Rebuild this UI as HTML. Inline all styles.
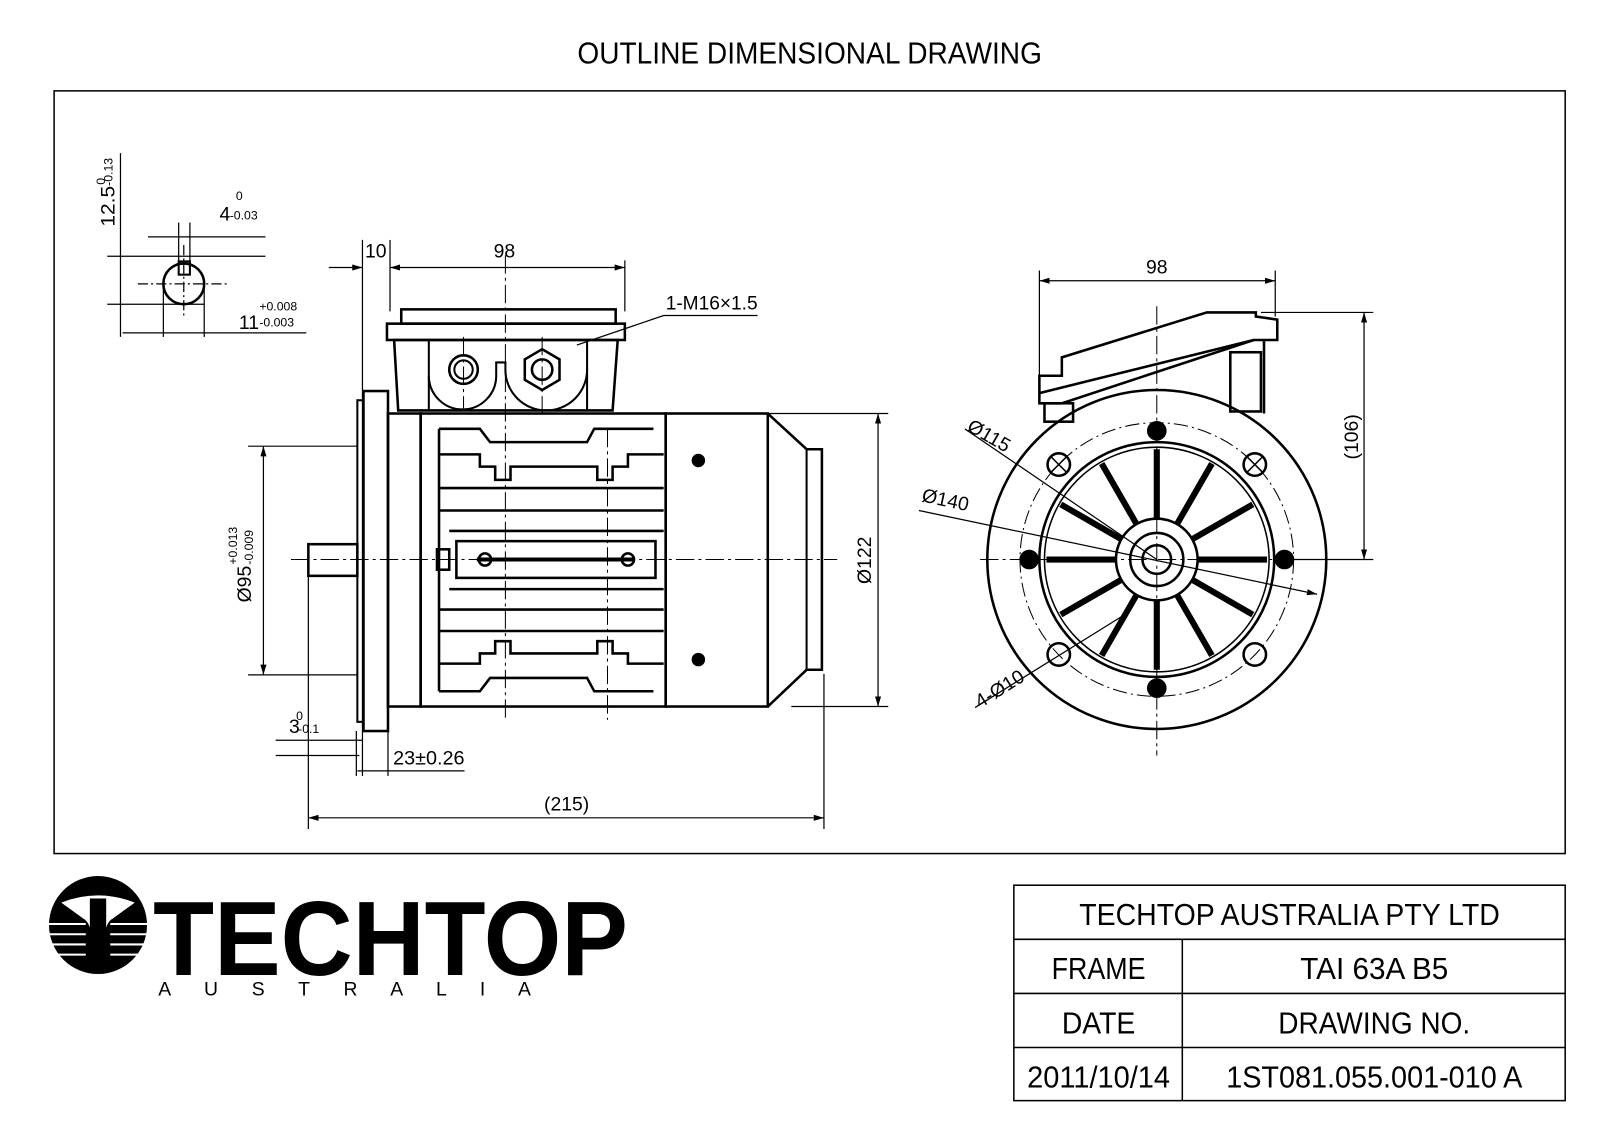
<!DOCTYPE html>
<html><head><meta charset="utf-8"><style>
body{margin:0;background:#fff;}
svg{display:block;}
text{font-family:"Liberation Sans","DejaVu Sans",sans-serif;fill:#000;}
</style></head><body>
<svg width="1600" height="1131" viewBox="0 0 1600 1131" xmlns="http://www.w3.org/2000/svg">
<defs>
<marker id="a" viewBox="0 0 10 6" refX="10" refY="3" markerWidth="10" markerHeight="6" orient="auto-start-reverse" markerUnits="userSpaceOnUse"><path d="M0,0 L10,3 L0,6 Z" fill="#000"/></marker>
</defs>
<rect width="1600" height="1131" fill="#fff"/>
<g transform="scale(1.021)">
<text x="793" y="62" font-size="30" text-anchor="middle" textLength="455" lengthAdjust="spacingAndGlyphs">OUTLINE DIMENSIONAL DRAWING</text>
<rect x="53" y="89" width="1480" height="747" fill="none" stroke="#000" stroke-width="1.5"/>

<g fill="none" stroke="#000" stroke-width="1.2">
<!-- key section -->
<circle cx="180" cy="278" r="20" stroke-width="2.5"/>
<rect x="175" y="256" width="11" height="13" stroke-width="2"/>
<line x1="105" y1="251" x2="260" y2="251"/>
<line x1="105" y1="298" x2="200" y2="298"/>
<line x1="118" y1="150" x2="118" y2="330"/>
<line x1="160" y1="278" x2="160" y2="330"/>
<line x1="200" y1="278" x2="200" y2="330"/>
<line x1="120" y1="326" x2="300" y2="326"/>
<line x1="145" y1="232" x2="260" y2="232"/>
<line x1="175" y1="218" x2="175" y2="256"/>
<line x1="186" y1="218" x2="186" y2="256"/>
<line x1="135" y1="278" x2="225" y2="278" stroke-dasharray="10 3 2 3"/>
<line x1="180" y1="240" x2="180" y2="310" stroke-dasharray="10 3 2 3"/>

<!-- side view -->
<line x1="355" y1="235" x2="355" y2="760"/>
<line x1="382" y1="235" x2="382" y2="305"/>
<line x1="612" y1="255" x2="612" y2="305"/>
<line x1="322" y1="262" x2="355" y2="262" marker-end="url(#a)"/>
<line x1="382" y1="262" x2="612" y2="262" marker-start="url(#a)" marker-end="url(#a)"/>
<line x1="243" y1="437" x2="350" y2="437"/>
<line x1="243" y1="661" x2="350" y2="661"/>
<line x1="258" y1="437" x2="258" y2="661" marker-start="url(#a)" marker-end="url(#a)"/>
<line x1="655" y1="405" x2="870" y2="405"/>
<line x1="775" y1="692" x2="870" y2="692"/>
<line x1="860" y1="405" x2="860" y2="692" marker-start="url(#a)" marker-end="url(#a)"/>
<line x1="302" y1="563" x2="302" y2="812"/>
<line x1="807" y1="660" x2="807" y2="812"/>
<line x1="302" y1="801" x2="807" y2="801" marker-start="url(#a)" marker-end="url(#a)"/>
<line x1="270" y1="725" x2="355" y2="725"/>
<line x1="270" y1="740" x2="352" y2="740"/>
<line x1="349" y1="716" x2="349" y2="760"/>
<line x1="380" y1="716" x2="380" y2="760"/>
<line x1="350" y1="755" x2="455" y2="755"/>
<!-- shaft -->
<rect x="302" y="533" width="48" height="31" stroke-width="2.5"/>
<!-- flange -->
<rect x="350" y="392" width="6" height="315" stroke-width="2"/>
<rect x="356" y="383" width="24" height="333" stroke-width="2.5"/>
<rect x="380" y="405" width="32" height="287" stroke-width="2.5"/>
<!-- body -->
<rect x="412" y="405" width="240" height="287" stroke-width="2.5"/>
<g stroke-width="2.5">
<line x1="430" y1="420" x2="430" y2="677"/>
<polyline points="430,420 470,420 480,433 575,433 582,420 640,420"/>
<polyline points="430,445 470,445 470,457 485,457 485,470 500,470 500,457 585,457 585,470 600,470 600,457 615,457 615,445 650,445"/>
<line x1="430" y1="478" x2="650" y2="478"/>
<line x1="430" y1="500" x2="650" y2="500"/>
<line x1="440" y1="520" x2="650" y2="520"/>
<line x1="440" y1="577" x2="650" y2="577"/>
<line x1="430" y1="597" x2="650" y2="597"/>
<line x1="430" y1="618" x2="650" y2="618"/>
<polyline points="430,650 470,650 470,640 485,640 485,628 500,628 500,640 585,640 585,628 600,628 600,640 615,640 615,650 650,650"/>
<polyline points="430,677 470,677 480,664 575,664 582,677 640,677"/>
<rect x="447" y="530" width="195" height="36"/>
<line x1="467" y1="548" x2="620" y2="548" stroke-width="4"/>
<circle cx="475" cy="548" r="6"/><circle cx="615" cy="548" r="6"/>
<rect x="428" y="538" width="12" height="20"/>
</g>
<!-- fan cover -->
<rect x="652" y="405" width="100" height="287" stroke-width="2.5"/>
<polyline points="752,405 790,440 805,440 805,656 790,656 752,692" stroke-width="2.5"/>
<line x1="790" y1="440" x2="790" y2="656" stroke-width="2"/>
<circle cx="684" cy="451" r="6" fill="#000"/>
<circle cx="684" cy="646" r="6" fill="#000"/>
<!-- terminal box -->
<rect x="393" y="303" width="210" height="14" stroke-width="2.5"/>
<rect x="379" y="317" width="233" height="16" stroke-width="2.5"/>
<polygon points="386,333 605,333 600,402 390,402" stroke-width="2.5"/>
<line x1="420" y1="333" x2="420" y2="402" stroke-width="2"/>
<line x1="575" y1="333" x2="575" y2="402" stroke-width="2"/>
<path d="M420,368 A33,33 0 0 0 486,368 L486,355 L495,355 L495,362 A40,40 0 0 0 575,362" stroke-width="2"/>
<circle cx="454" cy="362" r="14" stroke-width="2.5"/><circle cx="454" cy="362" r="9" stroke-width="2"/>
<polygon points="531,342 548,352 548,372 531,382 514,372 514,352" stroke-width="2.5" fill="#fff"/>
<circle cx="531" cy="362" r="10" stroke-width="2.5"/>
<polyline points="565,338 650,309 742,309"/>
<!-- centre lines -->
<g stroke-dasharray="18 4 3 4" stroke-width="1">
<line x1="285" y1="548" x2="820" y2="548"/>
<line x1="495" y1="250" x2="495" y2="705"/>
<line x1="595" y1="420" x2="595" y2="705"/>
<line x1="531" y1="330" x2="531" y2="410"/>
<line x1="454" y1="330" x2="454" y2="400"/>
</g>

<!-- front view -->
<g stroke-width="2.5">
<circle cx="1133" cy="548" r="166"/>
<circle cx="1133" cy="548" r="115"/>
<circle cx="1133" cy="548" r="110" stroke-width="1.5"/>
<circle cx="1133" cy="548" r="40"/>
<circle cx="1133" cy="548" r="26"/>
<circle cx="1133" cy="548" r="14"/>
</g>
<circle cx="1133" cy="548" r="134" stroke-dasharray="14 4 2 4" stroke-width="1"/>
<g stroke-width="6">
<line x1="1133" y1="508" x2="1133" y2="440"/><line x1="1133" y1="588" x2="1133" y2="656"/>
<line x1="1093" y1="548" x2="1025" y2="548"/><line x1="1173" y1="548" x2="1241" y2="548"/>
<line x1="1153" y1="513" x2="1187" y2="454"/><line x1="1113" y1="513" x2="1079" y2="454"/>
<line x1="1153" y1="583" x2="1187" y2="642"/><line x1="1113" y1="583" x2="1079" y2="642"/>
<line x1="1168" y1="528" x2="1227" y2="494"/><line x1="1098" y1="528" x2="1039" y2="494"/>
<line x1="1168" y1="568" x2="1227" y2="602"/><line x1="1098" y1="568" x2="1039" y2="602"/>
</g>
<g stroke-width="2.5">
<circle cx="1037" cy="455" r="11"/><circle cx="1229" cy="455" r="11"/>
<circle cx="1037" cy="641" r="11"/><circle cx="1229" cy="641" r="11"/>
</g>
<g fill="#000"><circle cx="1133" cy="422" r="9"/><circle cx="1133" cy="674" r="9"/><circle cx="1008" cy="548" r="9"/><circle cx="1258" cy="548" r="9"/></g>
<g stroke-width="1.5"><line x1="1029" y1="447" x2="1045" y2="463"/><line x1="1045" y1="447" x2="1029" y2="463"/><line x1="1221" y1="447" x2="1237" y2="463"/><line x1="1237" y1="447" x2="1221" y2="463"/></g>
<g stroke-dasharray="18 4 3 4" stroke-width="1">
<line x1="1133" y1="300" x2="1133" y2="740"/>
<line x1="960" y1="548" x2="1310" y2="548"/>
</g>
<!-- terminal box front -->
<g stroke-width="2.5">
<polygon points="1018,368 1040,368 1040,350 1182,306 1230,306 1230,310 1251,313 1251,333 1228,333 1040,395 1018,395"/>
<line x1="1018" y1="385" x2="1228" y2="333"/>
<rect x="1023" y="395" width="28" height="18"/>
<rect x="1205" y="345" width="30" height="58"/>
<line x1="1238" y1="333" x2="1238" y2="405"/>
</g>
<line x1="1018" y1="265" x2="1018" y2="368"/>
<line x1="1249" y1="265" x2="1249" y2="310"/>
<line x1="1018" y1="275" x2="1249" y2="275" marker-start="url(#a)" marker-end="url(#a)"/>
<line x1="1235" y1="306" x2="1345" y2="306"/>
<line x1="1265" y1="548" x2="1345" y2="548"/>
<line x1="1336" y1="306" x2="1336" y2="548" marker-start="url(#a)" marker-end="url(#a)"/>
<line x1="945" y1="420" x2="1133" y2="548"/>
<line x1="900" y1="500" x2="1290" y2="582" marker-end="url(#a)"/>
<line x1="955" y1="693" x2="1100" y2="603"/>
</g>

<!-- dimension texts -->
<g font-size="19">
<text x="494" y="252" text-anchor="middle">98</text>
<text x="368" y="252" text-anchor="middle">10</text>
<text x="652" y="303" textLength="90" lengthAdjust="spacingAndGlyphs">1-M16×1.5</text>
<text x="385" y="749" textLength="70" lengthAdjust="spacingAndGlyphs">23±0.26</text>
<text x="555" y="794" text-anchor="middle">(215)</text>
<text x="1133" y="268" text-anchor="middle">98</text>
<text x="283" y="718">3</text>
<text x="234" y="322">11</text>
<text x="215" y="216">4</text>
<text transform="translate(112,222) rotate(-90)" textLength="40" lengthAdjust="spacingAndGlyphs">12.5</text>
<text transform="translate(246,590) rotate(-90)">Ø95</text>
<text transform="translate(853,572) rotate(-90)">Ø122</text>
<text transform="translate(1330,450) rotate(-90)">(106)</text>
<text transform="translate(946,421) rotate(30)">Ø115</text>
<text transform="translate(902,491) rotate(12)">Ø140</text>
<text transform="translate(960,694) rotate(-32)">4-Ø10</text>
</g>
<g font-size="12">
<text x="254" y="304">+0.008</text><text x="254" y="320">-0.003</text>
<text x="231" y="196">0</text><text x="225" y="215">-0.03</text>
<text x="290" y="705">0</text><text x="292" y="718">-0.1</text>
<text transform="translate(103,181) rotate(-90)">0</text>
<text transform="translate(110,182) rotate(-90)">-0.13</text>
<text transform="translate(232,553) rotate(-90)">+0.013</text>
<text transform="translate(248,553) rotate(-90)">-0.009</text>
</g>

<!-- logo -->
<circle cx="96" cy="906" r="48" fill="#000"/>
<path d="M60,884 Q96,870 132,884 L110,900 Q100,905 100,945 L92,945 Q92,905 82,900 Z" fill="#fff"/>
<rect x="88" y="880" width="16" height="70" fill="#000"/>
<g stroke="#fff" stroke-width="2"><line x1="48" y1="905" x2="84" y2="905"/><line x1="48" y1="915" x2="84" y2="915"/><line x1="50" y1="925" x2="84" y2="925"/><line x1="55" y1="935" x2="84" y2="935"/><line x1="108" y1="905" x2="144" y2="905"/><line x1="108" y1="915" x2="144" y2="915"/><line x1="108" y1="925" x2="142" y2="925"/><line x1="108" y1="935" x2="137" y2="935"/></g>
<text x="150" y="955" font-size="104" font-weight="bold" textLength="465" lengthAdjust="spacingAndGlyphs" font-family="Liberation Sans">TECHTOP</text>
<text x="155" y="975" font-size="19" textLength="365" lengthAdjust="spacing">A U S T R A L I A</text>

<!-- title block -->
<g fill="none" stroke="#000" stroke-width="1.5">
<rect x="993" y="867" width="540" height="211"/>
<line x1="993" y1="920" x2="1533" y2="920"/>
<line x1="993" y1="973" x2="1533" y2="973"/>
<line x1="993" y1="1026" x2="1533" y2="1026"/>
<line x1="1158" y1="920" x2="1158" y2="1078"/>
</g>
<g font-size="30" text-anchor="middle">
<text x="1263" y="906" textLength="412" lengthAdjust="spacingAndGlyphs">TECHTOP AUSTRALIA PTY LTD</text>
<text x="1076" y="959" textLength="92" lengthAdjust="spacingAndGlyphs">FRAME</text>
<text x="1346" y="959" textLength="145" lengthAdjust="spacingAndGlyphs">TAI 63A B5</text>
<text x="1076" y="1012" textLength="72" lengthAdjust="spacingAndGlyphs">DATE</text>
<text x="1346" y="1012" textLength="188" lengthAdjust="spacingAndGlyphs">DRAWING NO.</text>
<text x="1076" y="1065" textLength="140" lengthAdjust="spacingAndGlyphs">2011/10/14</text>
<text x="1346" y="1065" textLength="290" lengthAdjust="spacingAndGlyphs">1ST081.055.001-010 A</text>
</g>
</g>
</svg>
</body></html>
